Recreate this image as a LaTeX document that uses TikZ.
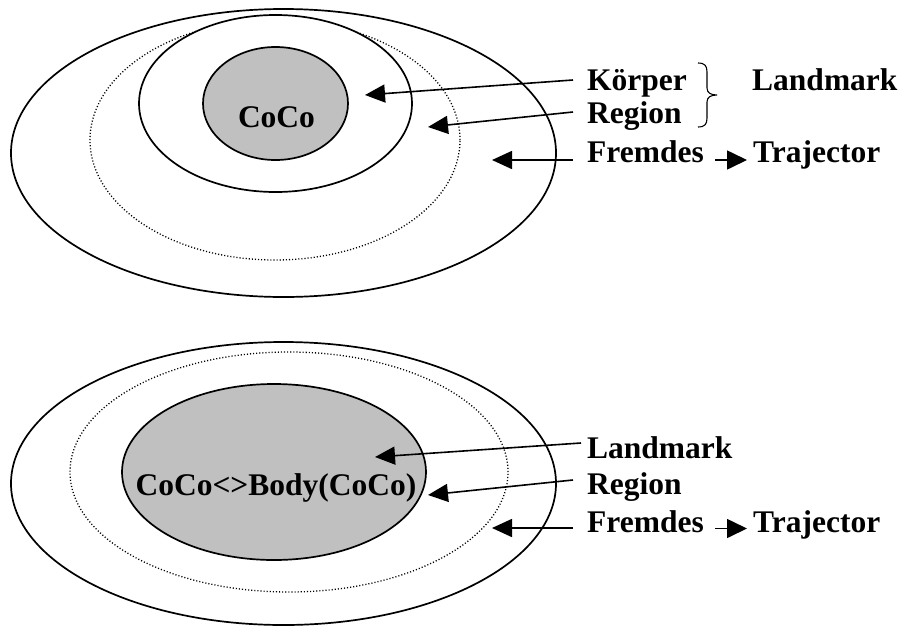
\documentclass[tikz,border=0pt]{standalone}
\usepackage{fontspec}
\setmainfont{Liberation Serif}
\usetikzlibrary{arrows.meta}
\definecolor{coregray}{RGB}{192,192,192}
\tikzset{
  ring/.style={draw=black, line width=1.7pt},
  dotring/.style={draw=black, line width=1.3pt, dash pattern=on 1.1pt off 2pt},
  core/.style={draw=black, line width=1.7pt, fill=coregray},
  lbl/.style={anchor=base west, inner sep=0pt, font=\bfseries\fontsize{31.5}{37}\selectfont},
  ctext/.style={anchor=base, inner sep=0pt, font=\bfseries\fontsize{31.5}{37}\selectfont},
  pointer/.style={draw=black, line width=1.6pt, -{Triangle[length=20pt,width=18pt]}},
  minor/.style={draw=black, line width=1.6pt, -{Triangle[length=20pt,width=19pt]}},
  brc/.style={draw=black, line width=1.1pt}
}
\begin{document}
\begin{tikzpicture}[x=1pt,y=-1pt]
\useasboundingbox (0,0) rectangle (904,627);

% ---- upper figure: nested zones around CoCo ----
\draw[ring] (283.5,153) ellipse [x radius=272.5pt, y radius=144pt];
\draw[dotring] (275,140) ellipse [x radius=185pt, y radius=120pt];
\draw[ring, fill=white] (275.5,103.5) ellipse [x radius=136.5pt, y radius=88.5pt];
\draw[core] (275.5,103.5) ellipse [x radius=72.5pt, y radius=56.5pt];
\node[ctext] (coco) at (276.5,127) {CoCo};

\node[lbl] (koerper) at (587,90) {Körper};
\node[lbl] (regionA) at (587,123) {Region};
\node[lbl] (fremdA) at (587,162) {Fremdes};
\node[lbl] (landA) at (752,90) {Landmark};
\node[lbl] (trajA) at (753,162) {Trajector};

% brace joining Körper and Region
\draw[brc] (698,63) .. controls (705,63) and (707,66) .. (707,72)
  -- (707,88) .. controls (707,93) and (711,95) .. (717,95)
  .. controls (711,95) and (707,97) .. (707,102)
  -- (707,118) .. controls (707,124) and (705,127) .. (698,127);

\coordinate (sA1) at (573,80);  \coordinate (tA1) at (365,95);
\coordinate (sA2) at (573,112); \coordinate (tA2) at (428,127);
\coordinate (sA3) at (573,160); \coordinate (tA3) at (492,160);
\draw[pointer] (sA1) -- (tA1);
\draw[pointer] (sA2) -- (tA2);
\draw[pointer] (sA3) -- (tA3);
\coordinate (fA) at (715,160); \coordinate (gA) at (747,160);
\draw[minor] (fA) -- (gA);

% ---- lower figure: body coincides with CoCo ----
\draw[ring] (283.5,483.5) ellipse [x radius=272.5pt, y radius=141.5pt];
\draw[dotring] (289,472) ellipse [x radius=219pt, y radius=120pt];
\draw[core] (274,472) ellipse [x radius=152pt, y radius=88pt];
\node[ctext] (body) at (276,495) {CoCo<>Body(CoCo)};

\node[lbl] (landB) at (587,458) {Landmark};
\node[lbl] (regionB) at (587,494) {Region};
\node[lbl] (fremdB) at (587,532) {Fremdes};
\node[lbl] (trajB) at (753,532) {Trajector};

\coordinate (sB1) at (581,443); \coordinate (tB1) at (375,457);
\coordinate (sB2) at (573,480); \coordinate (tB2) at (428,495);
\coordinate (sB3) at (573,528); \coordinate (tB3) at (492,528);
\draw[pointer] (sB1) -- (tB1);
\draw[pointer] (sB2) -- (tB2);
\draw[pointer] (sB3) -- (tB3);
\coordinate (fB) at (715,528.5); \coordinate (gB) at (747,528.5);
\draw[minor] (fB) -- (gB);
\end{tikzpicture}
\end{document}
